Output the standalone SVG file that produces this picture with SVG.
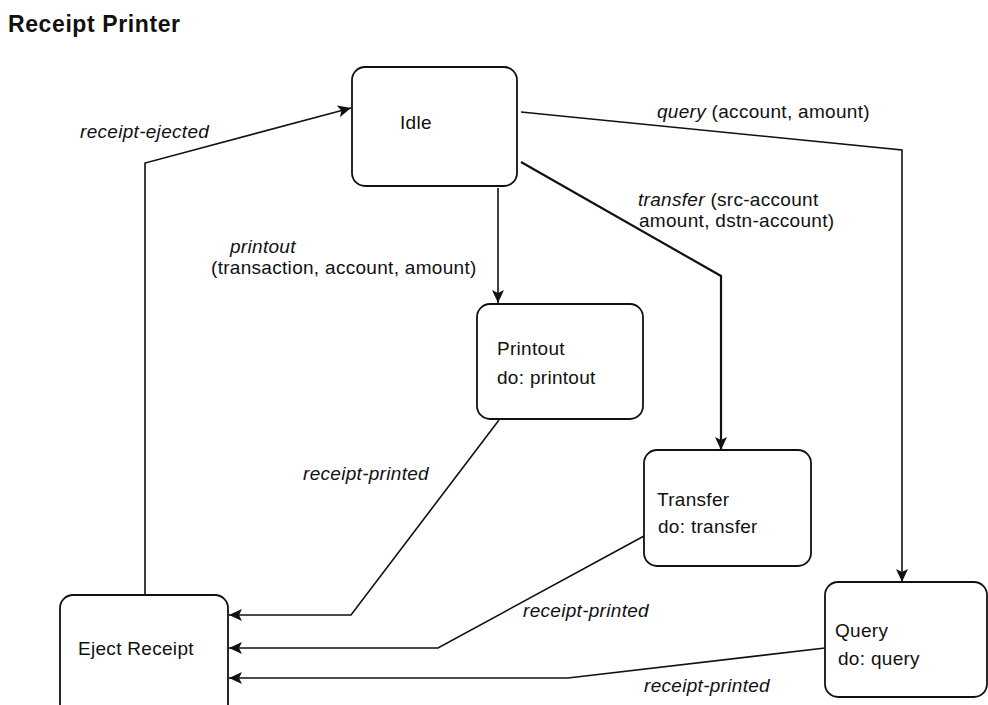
<svg xmlns="http://www.w3.org/2000/svg" width="988" height="705" viewBox="0 0 988 705">
<style>
.node rect{fill:#fff;stroke:#111;stroke-width:1.8}
.t{font-family:"Liberation Sans",Arial,sans-serif;font-size:19px;fill:#111;letter-spacing:0.3px}
.it{font-style:italic}
.title{font-family:"Liberation Sans",Arial,sans-serif;font-size:23px;font-weight:bold;fill:#111;letter-spacing:0.6px}
.c{fill:none;stroke:#111;stroke-width:1.6}
</style>
<defs>
<marker id="ah" markerWidth="14" markerHeight="12" refX="13" refY="6" orient="auto" markerUnits="userSpaceOnUse">
<path d="M0,0 L13,6 L0,12 L3,6 z" fill="#111"/>
</marker>
</defs>
<rect width="988" height="705" fill="#fff"/>
<text class="title" x="8" y="32">Receipt Printer</text>
<g id="connectors">
<path class="c" d="M145,595 L145,163 L351,108" marker-end="url(#ah)"/>
<path class="c" d="M498,188 L498,303" marker-end="url(#ah)"/>
<path class="c" d="M521,162 L721,276 L721,450" style="stroke-width:2.2" marker-end="url(#ah)"/>
<path class="c" d="M521,112 L902,150 L902,582" marker-end="url(#ah)"/>
<path class="c" d="M499,420 L351,615 L229,615" marker-end="url(#ah)"/>
<path class="c" d="M644,536 L438,648 L229,648" marker-end="url(#ah)"/>
<path class="c" d="M825,648 L568,678 L229,678" marker-end="url(#ah)"/>
</g>
<g id="labels">
<text class="t it" x="80" y="138">receipt-ejected</text>
<text class="t it" x="230" y="253">printout</text>
<text class="t" x="211" y="274">(transaction, account, amount)</text>
<text class="t" x="638" y="206"><tspan class="it">transfer</tspan> (src-account</text>
<text class="t" x="639" y="227">amount, dstn-account)</text>
<text class="t" x="657" y="118"><tspan class="it">query</tspan> (account, amount)</text>
<text class="t it" x="303" y="480">receipt-printed</text>
<text class="t it" x="523" y="617">receipt-printed</text>
<text class="t it" x="644" y="692">receipt-printed</text>
</g>
<g id="idle" class="node">
<rect x="352" y="67" width="165" height="119" rx="13"/>
<text class="t" x="400" y="129">Idle</text>
</g>
<g id="printout" class="node">
<rect x="477" y="304" width="166" height="115" rx="13"/>
<text class="t" x="497" y="355">Printout</text>
<text class="t" x="497" y="384">do: printout</text>
</g>
<g id="transfer" class="node">
<rect x="644" y="450" width="167" height="116" rx="13"/>
<text class="t" x="657" y="506">Transfer</text>
<text class="t" x="658" y="533">do: transfer</text>
</g>
<g id="query" class="node">
<rect x="825" y="582" width="162" height="115" rx="13"/>
<text class="t" x="835" y="637">Query</text>
<text class="t" x="838" y="665">do: query</text>
</g>
<g id="eject-receipt" class="node">
<rect x="60" y="595" width="168" height="125" rx="13"/>
<text class="t" x="78" y="655">Eject Receipt</text>
</g>
</svg>
